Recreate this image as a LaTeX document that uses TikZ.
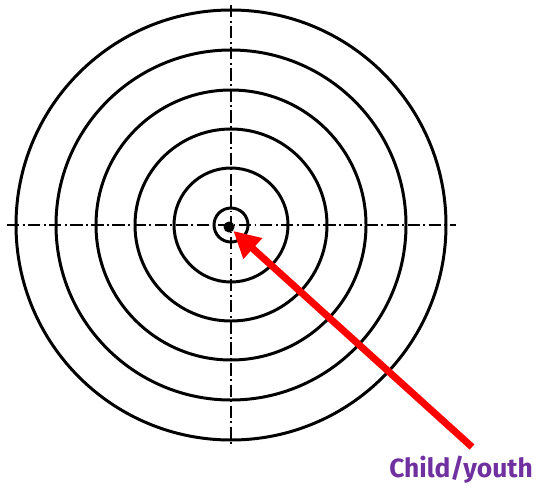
\documentclass[tikz,border=0pt]{standalone}
\usepackage{fontspec}
\setsansfont{Fira Sans}
\usepackage{tikz}
\usetikzlibrary{arrows.meta, positioning}

\definecolor{labelpurple}{RGB}{112,48,160}

\begin{document}
\begin{tikzpicture}[x=0.02cm, y=-0.02cm,
    ring/.style={line width=1.7pt, black},
    axisline/.style={line width=0.6pt, dash pattern=on 7pt off 2pt on 1pt off 2pt}]
    \useasboundingbox (0,0) rectangle (537,487);
    % Centre of the target
    \coordinate (centre) at (231,225);
    % Cross lines
    \draw[axisline] (7,225) -- (456,225);
    \draw[axisline] (231,5) -- (231,446);
    % Rings (inner one first)
    \foreach \r in {17,57,96,135,175,215}
        \draw[ring] (centre) circle (\r);
    % Child in the middle
    \node[circle, fill=black, inner sep=0pt, minimum size=11*0.02cm] (dot) at (229,227) {};
    % Label
    \node[text=labelpurple, font=\sffamily\bfseries\fontsize{15}{17}\selectfont] (child) at (461,470) {Child/youth};
    \coordinate (tail) at (472,447);
    \draw[-{Triangle[length=15pt, width=15pt]}, red, line width=4pt] (tail) -- (dot);
\end{tikzpicture}
\end{document}
